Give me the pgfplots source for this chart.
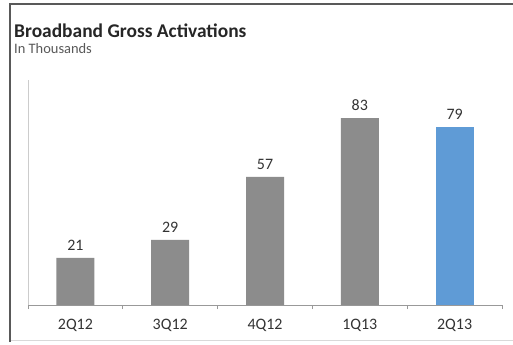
\documentclass[border=0pt]{standalone}
\usepackage{pgfplots}
\pgfplotsset{compat=1.18}
\usepackage{fontspec}
\setmainfont{Carlito}
\definecolor{bargray}{HTML}{8C8C8C}
\definecolor{barblue}{HTML}{5F9BD6}
\definecolor{txt}{HTML}{333333}
\begin{document}
\begin{tikzpicture}[x=1bp,y=1bp]
\useasboundingbox (0,0) rectangle (513,344);
\fill[white] (0,0) rectangle (513,344);
% frame
\draw[line width=1bp, color=black!15] (9.5,4) -- (513,4);
\draw[line width=2bp, color=black!65] (9.5,2) -- (9.5,339.5) -- (513,339.5);
% titles
\node[anchor=base west, inner sep=0, font=\fontsize{19.5}{22}\selectfont\bfseries, text=black!85] at (14,307) {Broadband Gross Activations};
\node[anchor=base west, inner sep=0, font=\fontsize{14.5}{16}\selectfont, text=black!65] at (14,291) {In Thousands};
\begin{axis}[
  at={(28bp,39bp)}, anchor=south west,
  scale only axis, width=474bp, height=225bp,
  xmin=-0.5, xmax=4.5, ymin=0, ymax=100,
  axis x line*=bottom, axis y line*=left,
  x axis line style={color=black!40, line width=0.8bp, -},
  y axis line style={color=black!20, line width=1bp, -},
  ytick=\empty,
  xtick={-0.5,0.5,1.5,2.5,3.5,4.5},
  xticklabels={},
  extra x ticks={0,1,2,3,4},
  extra x tick labels={2Q12,3Q12,4Q12,1Q13,2Q13},
  extra x tick style={major tick length=0pt, xticklabel style={yshift=-11bp}},
  major tick length=4bp,
  tick align=outside,
  tick style={color=black!40, line width=0.8bp},
  xticklabel style={font=\fontsize{16}{18}\selectfont, text=txt},
  /pgf/number format/assume math mode=true,
  ybar, bar width=38bp,
  nodes near coords,
  every node near coord/.append style={font=\fontsize{16}{18}\selectfont, text=txt, yshift=4bp},
  clip=false,
]
\addplot[fill=bargray, draw=none, bar shift=0pt] coordinates {(0,21) (1,29) (2,57) (3,83)};
\addplot[fill=barblue, draw=none, bar shift=0pt] coordinates {(4,79)};
\end{axis}
\end{tikzpicture}
\end{document}
